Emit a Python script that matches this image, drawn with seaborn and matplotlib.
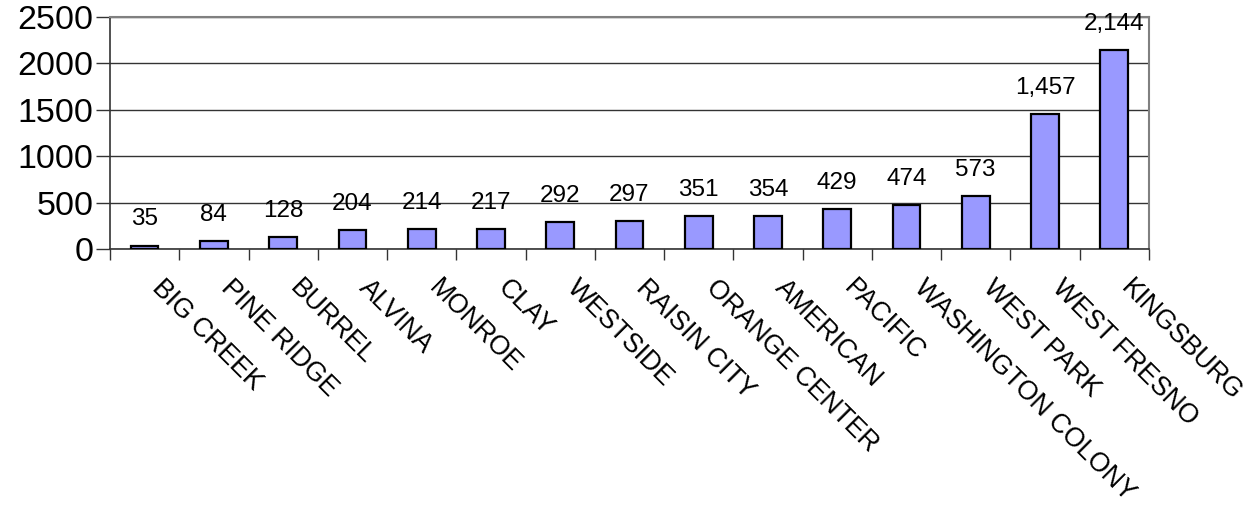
import numpy as np
import pandas as pd
import matplotlib
matplotlib.use("Agg")
import matplotlib.pyplot as plt
import matplotlib.transforms as mtransforms
import seaborn as sns

districts = ["BIG CREEK", "PINE RIDGE", "BURREL", "ALVINA", "MONROE", "CLAY",
             "WESTSIDE", "RAISIN CITY", "ORANGE CENTER", "AMERICAN", "PACIFIC",
             "WASHINGTON COLONY", "WEST PARK", "WEST FRESNO", "KINGSBURG"]
enrollment = [35, 84, 128, 204, 214, 217, 292, 297, 351, 354, 429, 474, 573, 1457, 2144]
y_ticks = [0, 500, 1000, 1500, 2000, 2500]

sns.set_theme(style="white")
plt.rcParams["font.family"] = ["Liberation Sans", "DejaVu Sans"]
plt.rcParams["text.color"] = "black"
plt.rcParams["xtick.color"] = "black"
plt.rcParams["ytick.color"] = "black"

df = pd.DataFrame({"district": districts, "students": enrollment})

fig = plt.figure(figsize=(12.57, 5.08), dpi=100)
ax = fig.add_axes([0.0875, 0.5098, 0.8265, 0.4567])

sns.barplot(data=df, x="district", y="students", color="#9999FF", saturation=1,
            width=0.4, edgecolor="black", linewidth=1.6, ax=ax, zorder=3)

n = len(districts)
ax.set_xlim(-0.5, n - 0.5)
ax.set_ylim(0, 2500)
ax.set_xlabel("")
ax.set_ylabel("")

# horizontal gridlines at each y tick
ax.set_yticks(y_ticks)
ax.set_yticklabels([str(v) for v in y_ticks], fontsize=24.5, color="black")
ax.yaxis.grid(True, color="#333333", linewidth=1, zorder=0)
ax.set_axisbelow(True)
ax.tick_params(axis="y", direction="out", length=10, width=1, color="#333333",
               left=True, pad=2)

# tick marks at category boundaries, labels at centres
ax.set_xticks(np.arange(n + 1) - 0.5)
ax.set_xticklabels([""] * (n + 1))
ax.tick_params(axis="x", which="major", direction="out", length=8, width=1,
               color="#333333", bottom=True)
ax.set_xticks(np.arange(n), minor=True)
ax.set_xticklabels(districts, minor=True, fontsize=19.2, rotation=-45,
                   ha="left", va="center", rotation_mode="anchor", color="black")
ax.tick_params(axis="x", which="minor", length=0, pad=25.5)
shift = mtransforms.ScaledTranslation(0.11, 0, fig.dpi_scale_trans)
for lbl in ax.get_xticklabels(minor=True):
    lbl.set_transform(lbl.get_transform() + shift)

for side in ["top", "right"]:
    ax.spines[side].set_color("#808080")
    ax.spines[side].set_linewidth(1.5)
for side in ["left", "bottom"]:
    ax.spines[side].set_color("#333333")
    ax.spines[side].set_linewidth(1.2)

ax.bar_label(ax.containers[0], labels=[f"{v:,}" for v in enrollment],
             padding=11, fontsize=17.5, color="black")

fig.savefig("out.png", dpi=100)
